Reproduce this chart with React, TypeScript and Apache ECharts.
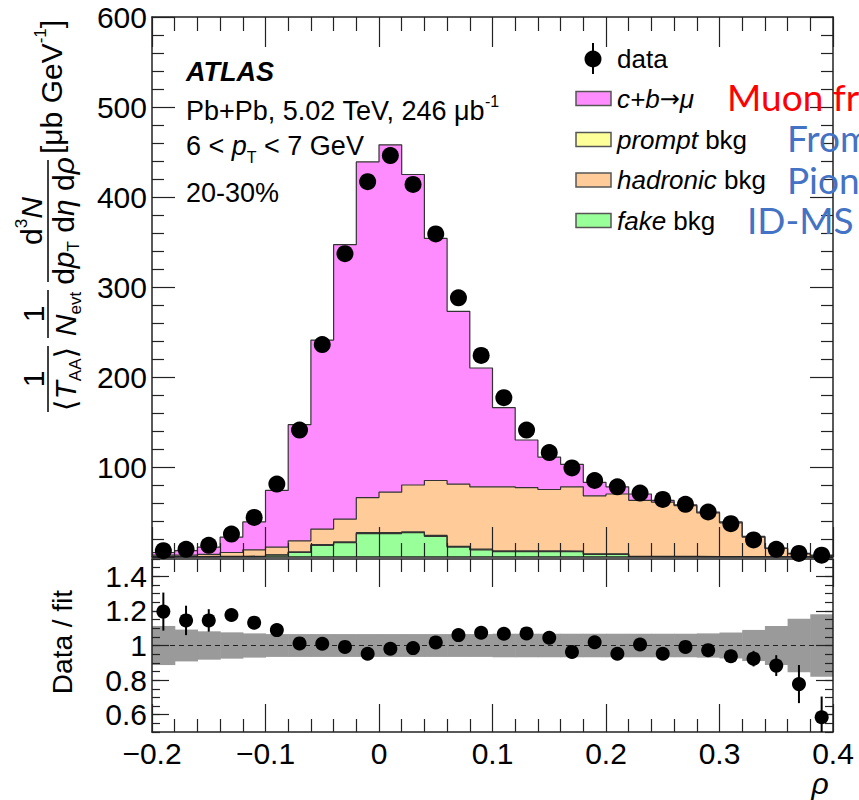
import React, { useEffect, useRef } from "react";
import * as echarts from "echarts";

// ---------- data ----------
const rhoCenters = [
  -0.19, -0.17, -0.15, -0.13, -0.11, -0.09, -0.07, -0.05, -0.03, -0.01,
  0.01, 0.03, 0.05, 0.07, 0.09, 0.11, 0.13, 0.15, 0.17, 0.19,
  0.21, 0.23, 0.25, 0.27, 0.29, 0.31, 0.33, 0.35, 0.37, 0.39,
];
const binWidth = 0.02;

const dataYield = [
  7, 8.5, 13, 25.5, 44, 81, 141, 236, 337, 417,
  446, 414, 359, 288, 224, 177, 141, 116, 99, 85,
  78, 71, 64, 58.5, 50, 37, 19, 8.5, 4, 2,
];
const fakeBkg = [
  0.2, 0.2, 0.3, 0.4, 0.6, 2, 5, 13, 16, 26,
  26, 27, 23, 11, 8, 6, 6, 6, 6, 3,
  3, 0.3, 0.2, 0.2, 0.2, 0.1, 0.1, 0.1, 0, 0,
];
const promptBkg = [
  0.2, 0.2, 0.3, 0.3, 0.4, 0.5, 0.6, 0.8, 0.9, 1.0,
  1.0, 1.0, 1.0, 0.9, 0.8, 0.8, 0.7, 0.7, 0.6, 0.6,
  0.5, 0.5, 0.4, 0.4, 0.3, 0.3, 0.2, 0.2, 0.1, 0.1,
];
const hadronicBkg = [
  1.6, 1.6, 2.4, 4.3, 7.0, 8.5, 12.4, 17.2, 25.1, 39,
  45, 52, 61, 69.1, 69.2, 71.2, 70.3, 68.3, 71.4, 64.4,
  66.5, 62.2, 60.4, 56.4, 48.5, 37.6, 21.7, 9.2, 3.4, 1.4,
];
const cbMuon = [
  3, 5, 8, 17, 31, 63, 129, 210, 305, 373,
  386, 345, 269, 192, 132, 88, 53, 36, 25, 15,
  8, 7, 2, 1, 1, 1, 1, 0.5, 0.5, 0.5,
];

const ratioValues = [
  1.196, 1.145, 1.145, 1.176, 1.132, 1.089, 1.012, 1.01, 0.992, 0.952,
  0.981, 0.985, 1.018, 1.06, 1.074, 1.068, 1.07, 1.045, 0.963, 1.019,
  0.952, 1.006, 0.952, 0.992, 0.973, 0.938, 0.924, 0.884, 0.777, 0.585,
];
const ratioErrors = [
  0.11, 0.085, 0.065, 0.035, 0.03, 0.025, 0.02, 0.02, 0.02, 0.02,
  0.02, 0.02, 0.02, 0.02, 0.02, 0.02, 0.02, 0.02, 0.02, 0.02,
  0.02, 0.02, 0.02, 0.02, 0.025, 0.03, 0.045, 0.06, 0.11, 0.12,
];
const fitUncertainty = [
  0.113, 0.092, 0.082, 0.076, 0.07, 0.066, 0.066, 0.066, 0.066, 0.066,
  0.066, 0.066, 0.066, 0.066, 0.066, 0.068, 0.068, 0.068, 0.068, 0.068,
  0.068, 0.068, 0.068, 0.068, 0.07, 0.075, 0.09, 0.112, 0.155, 0.18,
];
const ratioTickLabels = [0.6, 0.8, 1, 1.2, 1.4];

// ---------- helpers ----------
const FF = '"Liberation Sans", Arial, Helvetica, sans-serif';
const SYM = '"DejaVu Sans", sans-serif';
let mctx: CanvasRenderingContext2D | null = null;
function measure(t: string, s: number, it?: boolean, b?: boolean, f?: string) {
  if (!mctx) mctx = document.createElement("canvas").getContext("2d");
  mctx!.font = `${it ? "italic " : ""}${b ? "bold " : ""}${s}px ${f || FF}`;
  return mctx!.measureText(t).width;
}
type Run = { t: string; s: number; it?: boolean; b?: boolean; dy?: number; f?: string };
function runsWidth(list: Run[]) {
  return list.reduce((a, r) => a + measure(r.t, r.s, r.it, r.b, r.f), 0);
}
function runs(x0: number, y: number, list: Run[], color = "#000", z = 20) {
  let x = x0;
  const els: any[] = [];
  for (const r of list) {
    els.push({
      type: "text",
      x,
      y: y + (r.dy || 0),
      z,
      style: {
        text: r.t,
        fontSize: r.s,
        fontFamily: r.f || FF,
        fontStyle: r.it ? "italic" : "normal",
        fontWeight: r.b ? "bold" : "normal",
        fill: color,
        align: "left",
        verticalAlign: "middle",
      },
    });
    x += measure(r.t, r.s, r.it, r.b, r.f);
  }
  return els;
}
function centeredRuns(cx: number, y: number, list: Run[]) {
  return runs(cx - runsWidth(list) / 2, y, list);
}
function stepData(vals: number[]) {
  const pts = rhoCenters.map((c, i) => [c - binWidth / 2, vals[i]]);
  pts.push([rhoCenters[rhoCenters.length - 1] + binWidth / 2, vals[vals.length - 1]]);
  return pts;
}
const fmtX = (v: number) => {
  const r = Math.round(v * 10) / 10;
  return r < 0 ? "\u2212" + Math.abs(r) : String(r);
};
const AX = "#222";

function xAx(gridIndex: number, position: string, showLabel: boolean, major: number, minor: number) {
  return {
    type: "value",
    gridIndex,
    position,
    min: -0.2,
    max: 0.4,
    interval: 0.1,
    z: 3,
    axisLine: { show: true, onZero: false, lineStyle: { color: AX, width: 1.5 } },
    axisTick: { show: true, inside: true, length: major, lineStyle: { color: AX, width: 1.2 } },
    minorTick: { show: true, splitNumber: 5, length: minor, lineStyle: { color: AX, width: 1.2 } },
    splitLine: { show: false },
    minorSplitLine: { show: false },
    axisLabel: { show: showLabel, fontSize: 30, fontFamily: FF, color: "#000", margin: 6, formatter: fmtX },
  };
}

export default function App() {
  const ref = useRef<HTMLDivElement>(null);
  useEffect(() => {
    if (!ref.current) return;
    const chart = echarts.init(ref.current, undefined, { renderer: "svg" });

    const c1 = fakeBkg.slice();
    const c2 = c1.map((v, i) => v + promptBkg[i]);
    const c3 = c2.map((v, i) => v + hadronicBkg[i]);
    const c4 = c3.map((v, i) => v + cbMuon[i]);

    const hist = (name: string, vals: number[], color: string) => ({
      type: "line",
      name,
      xAxisIndex: 0,
      yAxisIndex: 0,
      data: stepData(vals),
      step: "end",
      symbol: "none",
      silent: true,
      z: 2,
      lineStyle: { color: "#333", width: 1.2 },
      areaStyle: { color, opacity: 1 },
    });

    // ---- y axis title (rotated) ----
    const yl: any[] = [];
    yl.push({ type: "line", shape: { x1: 0, y1: 0, x2: 66, y2: 0 }, style: { stroke: "#000", lineWidth: 1.5 } });
    yl.push(...centeredRuns(33, -15, [{ t: "1", s: 30 }]));
    yl.push(...centeredRuns(33, 17, [
      { t: "\u27E8", s: 30, f: SYM }, { t: "T", s: 30, it: true }, { t: "AA", s: 17, dy: 10 }, { t: "\u27E9", s: 30, f: SYM },
    ]));
    yl.push({ type: "line", shape: { x1: 74, y1: 0, x2: 122, y2: 0 }, style: { stroke: "#000", lineWidth: 1.5 } });
    yl.push(...centeredRuns(98, -15, [{ t: "1", s: 30 }]));
    yl.push(...centeredRuns(98, 17, [{ t: "N", s: 30, it: true }, { t: "evt", s: 17, dy: 10 }]));
    yl.push({ type: "line", shape: { x1: 130, y1: 0, x2: 252, y2: 0 }, style: { stroke: "#000", lineWidth: 1.5 } });
    yl.push(...centeredRuns(191, -17, [{ t: "d", s: 30 }, { t: "3", s: 17, dy: -10 }, { t: "N", s: 30, it: true }]));
    yl.push(...centeredRuns(191, 15, [
      { t: "d", s: 30 }, { t: "p", s: 30, it: true }, { t: "T", s: 17, dy: 10 },
      { t: " d", s: 30 }, { t: "\u03B7", s: 30, it: true }, { t: " d", s: 30 }, { t: "\u03C1", s: 30, it: true },
    ]));
    yl.push(...runs(258, 3, [{ t: "[\u03BCb GeV", s: 30 }, { t: "-1", s: 17, dy: -11 }, { t: "]", s: 30 }]));

    // ---- legend ----
    const legendEls: any[] = [];
    legendEls.push({ type: "line", z: 20, shape: { x1: 593, y1: 43, x2: 593, y2: 74 }, style: { stroke: "#000", lineWidth: 2 } });
    legendEls.push({ type: "circle", z: 20, shape: { cx: 593, cy: 59, r: 8.5 }, style: { fill: "#000" } });
    legendEls.push(...runs(617, 59, [{ t: "data", s: 26 }]));
    const boxes: [number, string, Run[]][] = [
      [98.5, "#ff8cff", [{ t: "c+b", s: 26, it: true }, { t: "\u2192", s: 24, f: SYM }, { t: "\u03BC", s: 26, it: true }]],
      [139.5, "#ffff99", [{ t: "prompt", s: 26, it: true }, { t: " bkg", s: 26 }]],
      [180, "#ffcc99", [{ t: "hadronic", s: 26, it: true }, { t: " bkg", s: 26 }]],
      [220.5, "#99ff99", [{ t: "fake", s: 26, it: true }, { t: " bkg", s: 26 }]],
    ];
    for (const [cy, col, lab] of boxes) {
      legendEls.push({ type: "rect", z: 20, shape: { x: 576, y: cy - 7, width: 35, height: 14 }, style: { fill: col, stroke: "#555", lineWidth: 1.5 } });
      legendEls.push(...runs(617, cy, lab));
    }

    const textEls: any[] = [
      ...runs(186, 72, [{ t: "ATLAS", s: 27, it: true, b: true }]),
      ...runs(186, 111, [{ t: "Pb+Pb, 5.02 TeV, 246 \u03BCb", s: 27 }, { t: "-1", s: 16, dy: -10 }]),
      ...runs(186, 146, [{ t: "6 < ", s: 27 }, { t: "p", s: 27, it: true }, { t: "T", s: 16, dy: 11 }, { t: " < 7 GeV", s: 27 }]),
      ...runs(186, 193, [{ t: "20-30%", s: 27 }]),
    ];

    const overlay = (x: number, y: number, t: string, color: string) => ({
      type: "text", x, y, z: 30,
      style: { text: t, fontSize: 37, fontFamily: "Lato, 'Open Sans', sans-serif", fill: color, align: "left", verticalAlign: "middle" },
    });

    const yMinor = (position: string) => ({
      type: "value", gridIndex: 1, position, min: 0.5, max: 1.5, interval: 0.05, z: 3,
      axisLine: { show: true, onZero: false, lineStyle: { color: AX, width: 1.5 } },
      axisTick: { show: true, inside: true, length: 8, lineStyle: { color: AX, width: 1.2 } },
      splitLine: { show: false },
      axisLabel: { show: false },
    });
    const yMajor = (position: string, labels: boolean) => ({
      type: "value", gridIndex: 1, position, min: 0.5, max: 1.5, z: 3,
      axisLine: { show: false, onZero: false },
      axisTick: { show: true, inside: true, length: 17, customValues: ratioTickLabels, lineStyle: { color: AX, width: 1.2 } },
      splitLine: { show: false },
      axisLabel: labels
        ? { fontSize: 30, fontFamily: FF, color: "#000", margin: 5, customValues: ratioTickLabels }
        : { show: false },
    });
    const yTop = (position: string, labels: boolean) => ({
      type: "value", gridIndex: 0, position, min: 0, max: 600, interval: 100, z: 3,
      axisLine: { show: true, onZero: false, lineStyle: { color: AX, width: 1.5 } },
      axisTick: { show: true, inside: true, length: 23, lineStyle: { color: AX, width: 1.2 } },
      minorTick: { show: true, splitNumber: 5, length: 12, lineStyle: { color: AX, width: 1.2 } },
      splitLine: { show: false },
      axisLabel: labels
        ? { fontSize: 30, fontFamily: FF, color: "#000", margin: 5, formatter: (v: number) => (v === 0 ? "" : String(v)) }
        : { show: false },
    });

    const option: any = {
      animation: false,
      backgroundColor: "#fff",
      grid: [
        { left: 152, right: 26, top: 17, height: 540 },
        { left: 152, right: 26, top: 559, height: 173 },
      ],
      xAxis: [
        xAx(0, "bottom", false, 30, 14),
        xAx(0, "top", false, 30, 14),
        xAx(1, "bottom", true, 28, 13),
        xAx(1, "top", false, 28, 13),
      ],
      yAxis: [
        yTop("left", true),
        yTop("right", false),
        yMinor("left"),
        yMajor("left", true),
        yMinor("right"),
        yMajor("right", false),
      ],
      series: [
        hist("c+b\u2192\u03BC", c4, "#ff8cff"),
        hist("hadronic bkg", c3, "#ffcc99"),
        hist("prompt bkg", c2, "#ffff99"),
        hist("fake bkg", c1, "#99ff99"),
        {
          type: "scatter", name: "data", xAxisIndex: 0, yAxisIndex: 0, z: 5, silent: true,
          data: rhoCenters.map((c, i) => [c, dataYield[i]]),
          symbol: "circle", symbolSize: 17, itemStyle: { color: "#000", opacity: 1 },
        },
        {
          type: "custom", name: "fit uncertainty", xAxisIndex: 2, yAxisIndex: 2, z: 1, silent: true, clip: true,
          data: rhoCenters.map((c, i) => [c, fitUncertainty[i]]),
          renderItem: (_p: any, api: any) => {
            const c = api.value(0), e = api.value(1);
            const a = api.coord([c - binWidth / 2, 1 + e]);
            const b = api.coord([c + binWidth / 2, 1 - e]);
            return { type: "rect", shape: { x: a[0], y: a[1], width: b[0] - a[0] + 0.6, height: b[1] - a[1] }, style: { fill: "#9a9a9a" } };
          },
        },
        {
          type: "line", name: "unity", xAxisIndex: 2, yAxisIndex: 2, z: 2, silent: true, symbol: "none",
          data: [[-0.2, 1], [0.4, 1]],
          lineStyle: { color: "#222", width: 1.2, type: [5, 4] },
        },
        {
          type: "custom", name: "ratio errors", xAxisIndex: 2, yAxisIndex: 2, z: 4, silent: true, clip: true,
          data: rhoCenters.map((c, i) => [c, ratioValues[i], ratioErrors[i]]),
          renderItem: (_p: any, api: any) => {
            const x = api.value(0), y = api.value(1), e = api.value(2);
            const a = api.coord([x, y + e]);
            const b = api.coord([x, y - e]);
            return { type: "line", shape: { x1: a[0], y1: a[1], x2: b[0], y2: b[1] }, style: { stroke: "#000", lineWidth: 2 } };
          },
        },
        {
          type: "scatter", name: "data / fit", xAxisIndex: 2, yAxisIndex: 2, z: 5, silent: true,
          data: rhoCenters.map((c, i) => [c, ratioValues[i]]),
          symbol: "circle", symbolSize: 14, itemStyle: { color: "#000", opacity: 1 },
        },
      ],
      graphic: [
        { type: "group", x: 48, y: 412, rotation: Math.PI / 2, z: 20, children: yl },
        {
          type: "text", x: 62, y: 642, rotation: Math.PI / 2, z: 20,
          style: { text: "Data / fit", fontSize: 28, fontFamily: FF, fill: "#000", align: "center", verticalAlign: "middle" },
        },
        {
          type: "text", x: 820, y: 783, z: 20,
          style: { text: "\u03C1", fontSize: 30, fontStyle: "italic", fontFamily: FF, fill: "#000", align: "center", verticalAlign: "middle" },
        },
        ...textEls,
        ...legendEls,
        overlay(727, 96, "Muon from", "#ff0000"),
        overlay(787, 137, "From", "#4472c4"),
        overlay(787, 179, "Pion", "#4472c4"),
        overlay(747, 219, "ID-MS", "#4472c4"),
      ],
    };
    chart.setOption(option);
    return () => chart.dispose();
  }, []);

  return <div ref={ref} style={{ position: "absolute", left: 0, top: 0, width: 859, height: 800 }} />;
}
